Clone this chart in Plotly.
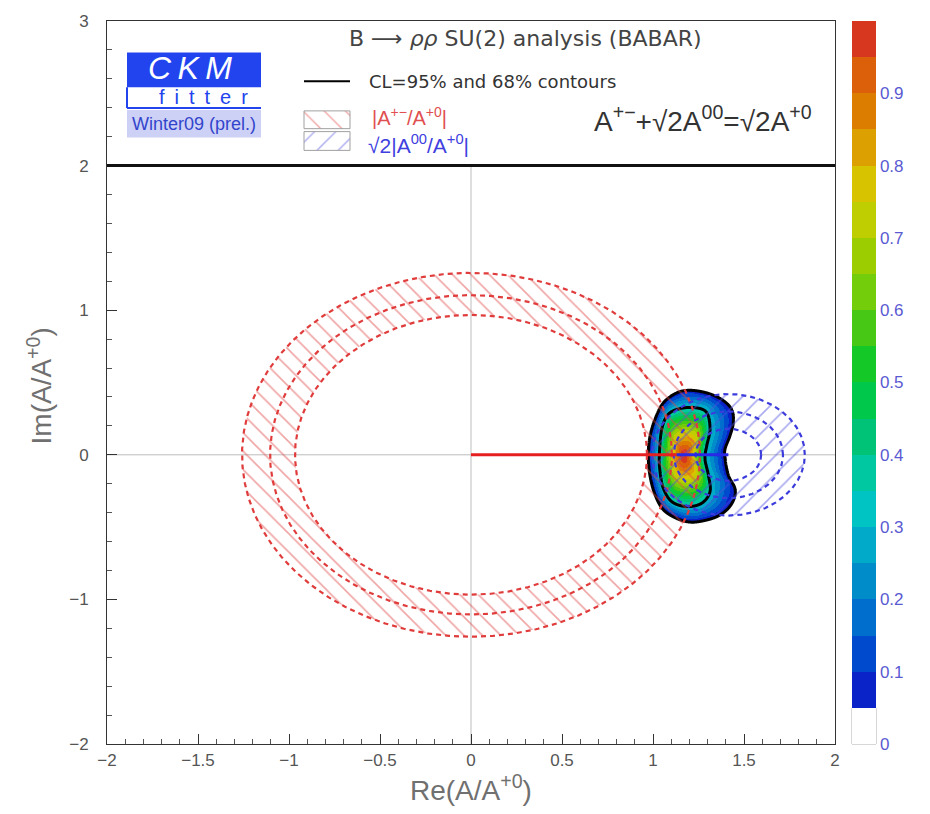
import numpy as np
import plotly.graph_objects as go

# ---------------- axes ----------------
x_range = [-2, 2]
y_range = [-2, 3]
x_tick_vals = [-2, -1.5, -1, -0.5, 0, 0.5, 1, 1.5, 2]
y_tick_vals = [-2, -1, 0, 1, 2, 3]
cl_tick_vals = [0, 0.1, 0.2, 0.3, 0.4, 0.5, 0.6, 0.7, 0.8, 0.9]
cl_tick_text = ["0", "0.1", "0.2", "0.3", "0.4", "0.5", "0.6", "0.7", "0.8", "0.9"]

# ---------------- measured moduli ----------------
# |A+-/A+0| : circles centred on the origin (lower edge, central, upper edge)
red_center = 0.0
red_radii = [0.967, 1.104, 1.258]
# sqrt2 |A00/A+0| : circles centred on sqrt2 (lower edge, central, upper edge)
blue_center = np.sqrt(2)
blue_radii = [0.18, 0.30, 0.42]

# ---------------- best-fit isospin triangle on the real axis ----------------
triangle_re = [0.0, 1.13, np.sqrt(2)]

# ---------------- 1-CL scan: best fit and contour boundaries ----------------
best_fit = (1.17, -0.01)
cl_levels = [0.05, 0.32]
cl95_re = [0.974, 0.983, 1.011, 1.057, 1.130, 1.200, 1.270, 1.350, 1.410, 1.445, 1.450, 1.414,
           1.396, 1.396, 1.423, 1.441, 1.432, 1.377, 1.295, 1.203, 1.130, 1.057, 1.011, 0.983]
cl95_im = [-0.005, -0.141, -0.275, -0.380, -0.440, -0.465, -0.458, -0.428, -0.375, -0.305, -0.232, -0.141,
           -0.027, 0.041, 0.132, 0.223, 0.314, 0.383, 0.428, 0.446, 0.428, 0.360, 0.246, 0.125]
cl68_re = [1.035, 1.039, 1.057, 1.103, 1.185, 1.267, 1.313, 1.304, 1.285, 1.295,
           1.313, 1.295, 1.231, 1.148, 1.084, 1.048]
cl68_im = [-0.005, -0.119, -0.232, -0.324, -0.358, -0.335, -0.255, -0.141, -0.027, 0.064,
           0.177, 0.292, 0.326, 0.319, 0.280, 0.177]

# 1-CL palette, one colour per 0.05 step
palette = ["#ffffff", "#0a23c8", "#004bcd", "#006ecd", "#008cc8", "#00aac8",
           "#00c3c3", "#00c8a0", "#00c378", "#00c84b", "#14c828", "#46c814",
           "#73cd0a", "#9bcd00", "#bece00", "#d7c300", "#dca000", "#dc7d00",
           "#dc5f0a", "#d7371e"]

RED_LINE = "#e03c3c"
RED_HATCH = "#e04848"
BLUE_LINE = "#3c3cdc"
BLUE_HATCH = "#5050e0"

# ---------------- page geometry helpers ----------------
W, H = 930, 814
PL, PT, PW, PH = 107, 12, 728, 732


def xp(px):
    return (px - PL) / PW


def yp(py):
    return 1 - (py - PT) / PH


def xd(px):
    return x_range[0] + (x_range[1] - x_range[0]) * xp(px)


def yd(py):
    return y_range[0] + (y_range[1] - y_range[0]) * yp(py)


# ---------------- 1-CL field built from the contour boundaries ----------------
def closed_spline(bx, by, n=24):
    """Closed Catmull-Rom curve through the boundary points."""
    P = np.column_stack([bx, by])
    N = len(P)
    t = np.linspace(0, 1, n, endpoint=False)[:, None]
    segs = []
    for i in range(N):
        p0, p1, p2, p3 = P[(i - 1) % N], P[i], P[(i + 1) % N], P[(i + 2) % N]
        segs.append(0.5 * (2 * p1 + (-p0 + p2) * t + (2 * p0 - 5 * p1 + 4 * p2 - p3) * t ** 2
                           + (-p0 + 3 * p1 - 3 * p2 + p3) * t ** 3))
    return np.vstack(segs)


def boundary_radius(bx, by, cx, cy, phi):
    curve = closed_spline(np.asarray(bx), np.asarray(by))
    ang = np.arctan2(curve[:, 1] - cy, curve[:, 0] - cx)
    rad = np.hypot(curve[:, 0] - cx, curve[:, 1] - cy)
    order = np.argsort(ang)
    return np.interp(phi, ang[order], rad[order], period=2 * np.pi)


gx = np.linspace(0.88, 1.56, 341)
gy = np.linspace(-0.58, 0.56, 457)
GX, GY = np.meshgrid(gx, gy)
cx, cy = best_fit
phi = np.arctan2(GY - cy, GX - cx)
r = np.hypot(GX - cx, GY - cy)
r68 = boundary_radius(cl68_re, cl68_im, cx, cy, phi)
r95 = boundary_radius(cl95_re, cl95_im, cx, cy, phi)
lo, hi = cl_levels
core = 1 - (1 - hi) * (r / r68) ** 1.3
shell = hi - (hi - lo) * (r - r68) / (r95 - r68)
cl_field = np.clip(np.where(r <= r68, core, shell), -0.2, 1.0)
cl_shown = np.where(cl_field >= lo, cl_field, np.nan)

colorscale = []
for i, c in enumerate(palette):
    colorscale.append([i / len(palette), c])
    colorscale.append([(i + 1) / len(palette), c])

theta = np.linspace(0, 2 * np.pi, 721)

fig = go.Figure()

# coloured 1-CL map
fig.add_trace(go.Heatmap(
    x=gx, y=gy, z=cl_shown, zmin=0, zmax=1, colorscale=colorscale,
    hoverinfo="skip",
    colorbar=dict(
        x=xp(852), xanchor="left", xpad=0, ypad=0,
        y=0.5, yanchor="middle", len=1, lenmode="fraction",
        thickness=24, outlinewidth=0,
        tickvals=cl_tick_vals, ticktext=cl_tick_text, ticks="",
        tickfont=dict(size=17, color="#5a5ad2"),
    ),
))


def annulus(cx0, r_in, r_out):
    xs = np.concatenate([cx0 + r_out * np.cos(theta), cx0 + r_in * np.cos(theta[::-1])])
    ys = np.concatenate([r_out * np.sin(theta), r_in * np.sin(theta[::-1])])
    return xs, ys


# hatched bands
for cen, radii, shape, col in [(red_center, red_radii, "\\", RED_HATCH),
                               (blue_center, blue_radii, "/", BLUE_HATCH)]:
    ax_, ay_ = annulus(cen, radii[0], radii[-1])
    fig.add_trace(go.Scatter(
        x=ax_, y=ay_, mode="none", fill="toself", hoverinfo="skip",
        fillpattern=dict(shape=shape, fgcolor=col, bgcolor="rgba(0,0,0,0)",
                         size=13, solidity=0.12),
    ))

# dashed circles
for cen, radii, col in [(red_center, red_radii, RED_LINE), (blue_center, blue_radii, BLUE_LINE)]:
    for rr in radii:
        fig.add_trace(go.Scatter(
            x=cen + rr * np.cos(theta), y=rr * np.sin(theta), mode="lines",
            line=dict(color=col, width=2.2, dash="5px,4px"), hoverinfo="skip",
        ))

# CL contours
fig.add_trace(go.Contour(
    x=gx, y=gy, z=cl_field, showscale=False, hoverinfo="skip",
    contours=dict(start=cl_levels[0], end=cl_levels[1] + 0.001,
                  size=cl_levels[1] - cl_levels[0], coloring="none"),
    line=dict(color="black", width=3, smoothing=1),
))

# best-fit triangle sides
fig.add_trace(go.Scatter(x=triangle_re[:2], y=[0, 0], mode="lines",
                         line=dict(color="#e62020", width=3), hoverinfo="skip"))
fig.add_trace(go.Scatter(x=triangle_re[1:], y=[0, 0], mode="lines",
                         line=dict(color="#2828e6", width=3), hoverinfo="skip"))

# legend swatches in the header
for (py0, py1), shape, col in [((103, 121), "\\", RED_HATCH), ((124, 143), "/", BLUE_HATCH)]:
    fig.add_trace(go.Scatter(
        x=[xd(304), xd(350), xd(350), xd(304), xd(304)],
        y=[yd(py0), yd(py0), yd(py1), yd(py1), yd(py0)],
        mode="lines", fill="toself", hoverinfo="skip",
        line=dict(color="#a0a0a0", width=1),
        fillpattern=dict(shape=shape, fgcolor=col, bgcolor="rgba(0,0,0,0)",
                         size=15, solidity=0.09),
    ))

shapes = [
    # zero axes
    dict(type="line", xref="x", yref="y", x0=0, x1=0, y0=-2, y1=2,
         line=dict(color="#bdbdbd", width=1), layer="below"),
    dict(type="line", xref="x", yref="y", x0=-2, x1=2, y0=0, y1=0,
         line=dict(color="#bdbdbd", width=1), layer="below"),
    # header separator
    dict(type="line", xref="x", yref="y", x0=-2, x1=2, y0=2, y1=2,
         line=dict(color="#111111", width=3)),
    # logo
    dict(type="rect", xref="paper", yref="paper", x0=xp(127), x1=xp(261), y0=yp(79), y1=yp(44),
         fillcolor="#2244ee", line=dict(width=0)),
    dict(type="line", xref="paper", yref="paper", x0=xp(127), x1=xp(127), y0=yp(100), y1=yp(79),
         line=dict(color="#2244ee", width=2)),
    dict(type="line", xref="paper", yref="paper", x0=xp(127), x1=xp(261), y0=yp(100), y1=yp(100),
         line=dict(color="#2244ee", width=2)),
    dict(type="rect", xref="paper", yref="paper", x0=xp(127), x1=xp(261), y0=yp(130), y1=yp(102),
         fillcolor="#cdd1f6", line=dict(width=0)),
    # legend line for contours
    dict(type="line", xref="paper", yref="paper", x0=xp(304), x1=xp(350), y0=yp(73), y1=yp(73),
         line=dict(color="black", width=2)),
    # white box of the palette
    dict(type="rect", xref="paper", yref="paper", x0=xp(852), x1=xp(876), y0=0, y1=0.05,
         fillcolor="rgba(0,0,0,0)", line=dict(color="#b0b0b0", width=1)),
]

ann_common = dict(xref="paper", yref="paper", showarrow=False)
WIDE = "DejaVu Sans, Verdana, sans-serif"
annotations = [
    dict(text="B \u27f6 <i>\u03c1\u03c1</i> SU(2) analysis (BABAR)", x=xp(347), y=yp(30),
         xanchor="left", yanchor="middle", font=dict(size=22, color="#444444", family=WIDE),
         **ann_common),
    dict(text="CL=95% and 68% contours", x=xp(367), y=yp(73),
         xanchor="left", yanchor="middle", font=dict(size=18, color="#333333", family=WIDE),
         **ann_common),
    dict(text="|A<sup>+\u2212</sup>/A<sup>+0</sup>|", x=xp(370), y=yp(109),
         xanchor="left", yanchor="middle", font=dict(size=20, color="#e05050"), **ann_common),
    dict(text="\u221a2|A<sup>00</sup>/A<sup>+0</sup>|", x=xp(366), y=yp(137),
         xanchor="left", yanchor="middle", font=dict(size=21, color="#4040e0"), **ann_common),
    dict(text="A<sup>+\u2212</sup>+\u221a2A<sup>00</sup>=\u221a2A<sup>+0</sup>", x=xp(592), y=yp(111),
         xanchor="left", yanchor="middle", font=dict(size=28, color="#333333"), **ann_common),
    dict(text="<i>C\u2009K\u2009M</i>", x=xp(190), y=yp(60), xanchor="center", yanchor="middle",
         font=dict(size=32, color="white"), **ann_common),
    dict(text="f\u2002i\u2002t\u2002t\u2002e\u2002r", x=xp(203), y=yp(89), xanchor="center",
         yanchor="middle", font=dict(size=20, color="#2244ee"), **ann_common),
    dict(text="Winter09 (prel.)", x=xp(194), y=yp(116), xanchor="center", yanchor="middle",
         font=dict(size=18, color="#3344cc"), **ann_common),
    # axis titles
    dict(text="Re(A/A<sup>+0</sup>)", x=xp(471), y=yp(789), xanchor="center", yanchor="middle",
         font=dict(size=28, color="#707070"), **ann_common),
    dict(text="Im(A/A<sup>+0</sup>)", x=xp(40), y=yp(382), xanchor="center", yanchor="middle",
         textangle=-90, font=dict(size=28, color="#707070"), **ann_common),
]

axis_common = dict(
    showgrid=False, zeroline=False, showline=True, mirror=True,
    linecolor="#333333", linewidth=1, ticks="inside", tickcolor="#333333",
    ticklen=10, tickfont=dict(size=17, color="#555555"),
)

fig.update_layout(
    width=W, height=H, autosize=False,
    margin=dict(l=PL, r=W - PL - PW, t=PT, b=H - PT - PH, pad=0),
    paper_bgcolor="white", plot_bgcolor="white",
    font=dict(family="Liberation Sans, Arial, sans-serif"),
    showlegend=False, hovermode=False,
    xaxis=dict(range=x_range, tickvals=x_tick_vals, ticklabelstandoff=1,
               minor=dict(ticks="inside", ticklen=5, dtick=0.1, tickcolor="#555555"),
               **axis_common),
    yaxis=dict(range=y_range, tickvals=y_tick_vals, ticklabelstandoff=14,
               minor=dict(ticks="inside", ticklen=5, dtick=0.2, tickcolor="#555555"),
               **axis_common),
    shapes=shapes,
    annotations=annotations,
)

fig.write_html("out.html", config={"displayModeBar": False})
